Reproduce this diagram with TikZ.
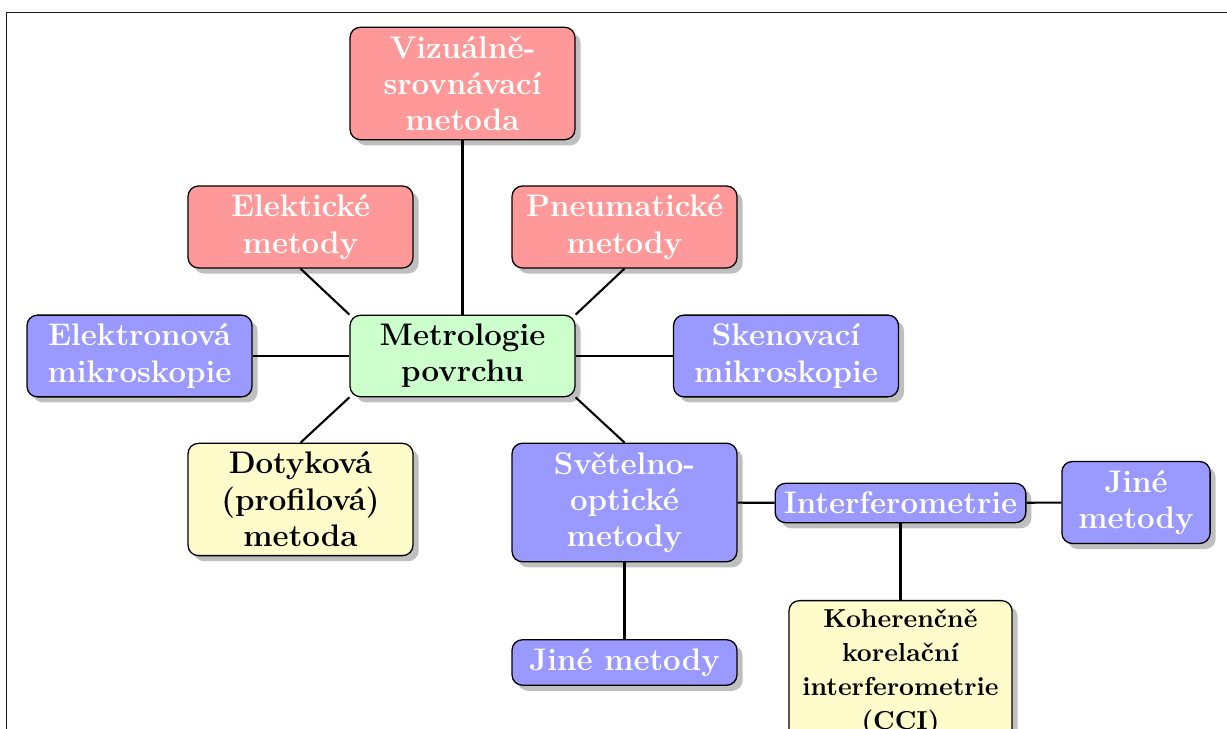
\documentclass[tikz,border=0pt]{standalone}
\usetikzlibrary{shadows}
\tikzset{
  box/.style={draw=black, line width=0.5pt, rounded corners=4pt, drop shadow, align=center, font=\large\bfseries, minimum width=86.5pt},
  redbox/.style={box, fill=red!40, text=white},
  bluebox/.style={box, fill=blue!40, text=white},
  greenbox/.style={box, fill=green!20, text=black},
  yellowbox/.style={box, fill=yellow!20, text=black},
  conn/.style={draw=black, line width=0.8pt},
  frameline/.style={draw=black!90, line width=0.7pt}
}
\begin{document}
\begin{tikzpicture}[x=0.3846pt, y=-0.3846pt]
\useasboundingbox (0,0) rectangle (1227,729);
\coordinate (fbl) at (6.5,729);
\coordinate (ftl) at (6.5,12.5);
\coordinate (ftr) at (1227,12.5);
\draw[frameline] (fbl) -- (ftl) -- (ftr);

\node[redbox] (viz) at (462.5,83.5) {Vizuálně-\\srovnávací\\metoda};
\node[redbox] (elek) at (300.5,227) {Elektické\\metody};
\node[redbox] (pneu) at (624.5,227) {Pneumatické\\metody};
\node[bluebox] (elen) at (139.5,356) {Elektronová\\mikroskopie};
\node[greenbox] (metro) at (462.5,356) {Metrologie\\povrchu};
\node[bluebox] (sken) at (786,356) {Skenovací\\mikroskopie};
\node[yellowbox] (dot) at (300.5,499.5) {Dotyková\\(profilová)\\metoda};
\node[bluebox] (svet) at (624.5,502.5) {Světelno-\\optické\\metody};
\node[bluebox, minimum width=0pt] (inter) at (900.5,503) {Interferometrie};
\node[bluebox, minimum width=57pt] (jine1) at (1136,502.5) {Jiné\\metody};
\node[bluebox] (jine2) at (624.5,662.5) {Jiné metody};
\node[yellowbox, font=\fontsize{10}{13}\selectfont\bfseries, minimum width=85.8pt, anchor=north] (cci) at (900.5,600) {Koherenčně\\korelační\\interferometrie\\(CCI)};

\draw[conn] (viz.south) -- (metro.north);
\draw[conn] (elek.south) -- (metro.north west);
\draw[conn] (pneu.south) -- (metro.north east);
\draw[conn] (elen.east) -- (metro.west);
\draw[conn] (metro.east) -- (sken.west);
\draw[conn] (metro.south west) -- (dot.north);
\draw[conn] (metro.south east) -- (svet.north);
\draw[conn] (svet) -- (inter);
\draw[conn] (inter) -- (jine1);
\draw[conn] (svet) -- (jine2);
\draw[conn] (inter) -- (cci);
\end{tikzpicture}
\end{document}
